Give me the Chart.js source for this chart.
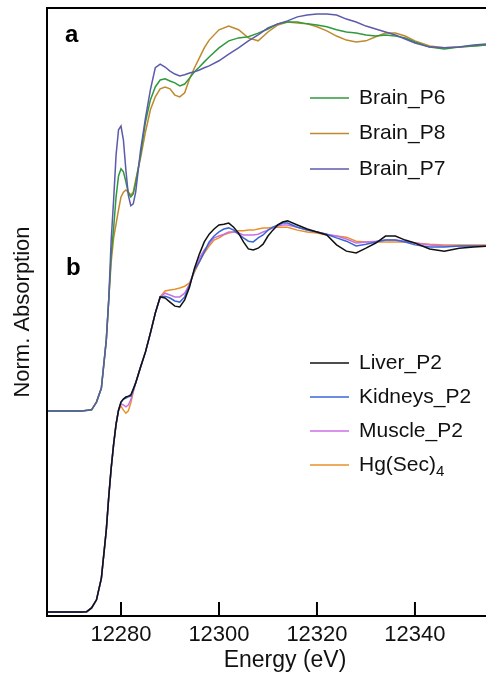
<!DOCTYPE html>
<html lang="en">
<head>
<meta charset="UTF-8">
<title>Hg L3-edge XANES</title>
<script src="https://cdn.jsdelivr.net/npm/chart.js"></script>
<style>
    body { margin: 0; background: #fff; }
    #wrap { width: 486px; height: 679px; }
</style>
</head>
<body>
<div id="wrap"><canvas id="xanes" width="486" height="679"></canvas></div>
<script>
// panel a: brain samples (shifted up by offsetA)
const energyA = [12265, 12272, 12274, 12275, 12276, 12277, 12277.5, 12278, 12278.5, 12279, 12279.5,
    12280, 12280.5, 12281, 12281.5, 12282, 12282.5, 12283, 12284, 12285, 12286, 12287, 12288, 12289,
    12290, 12291, 12292, 12293, 12294, 12295, 12296, 12297, 12298, 12300, 12302, 12304, 12306, 12308,
    12310, 12312, 12314, 12316, 12318, 12320, 12322, 12324, 12326, 12328, 12330, 12332, 12334, 12336,
    12338, 12340, 12343, 12346, 12349, 12352, 12355];
const brainP7 = [0, 0, 0.003, 0.024, 0.062, 0.192, 0.301, 0.463, 0.572, 0.694, 0.762, 0.772, 0.734,
    0.653, 0.585, 0.556, 0.561, 0.593, 0.707, 0.794, 0.870, 0.930, 0.940, 0.932, 0.921, 0.913, 0.908,
    0.911, 0.916, 0.919, 0.924, 0.930, 0.935, 0.949, 0.967, 0.984, 1.003, 1.019, 1.038, 1.049, 1.057,
    1.068, 1.073, 1.076, 1.076, 1.073, 1.062, 1.054, 1.043, 1.035, 1.027, 1.019, 1.008, 0.997, 0.986,
    0.984, 0.986, 0.992, 0.995];
const brainP6 = [0, 0, 0.003, 0.024, 0.062, 0.192, 0.301, 0.423, 0.496, 0.580, 0.637, 0.656, 0.648,
    0.621, 0.591, 0.580, 0.588, 0.618, 0.694, 0.783, 0.843, 0.878, 0.897, 0.900, 0.894, 0.889, 0.881,
    0.886, 0.902, 0.919, 0.932, 0.946, 0.959, 0.984, 1.003, 1.011, 1.014, 1.024, 1.035, 1.049, 1.054,
    1.054, 1.049, 1.046, 1.041, 1.033, 1.027, 1.024, 1.019, 1.016, 1.019, 1.016, 1.011, 1.000, 0.986,
    0.981, 0.986, 0.989, 0.992];
const brainP8 = [0, 0, 0.003, 0.024, 0.062, 0.192, 0.301, 0.404, 0.469, 0.507, 0.545, 0.580, 0.593,
    0.599, 0.593, 0.585, 0.593, 0.626, 0.686, 0.756, 0.816, 0.851, 0.873, 0.878, 0.873, 0.856, 0.851,
    0.862, 0.900, 0.930, 0.957, 0.984, 1.005, 1.033, 1.043, 1.033, 1.011, 1.003, 1.027, 1.046, 1.054,
    1.051, 1.049, 1.041, 1.030, 1.016, 1.005, 1.000, 1.003, 1.014, 1.024, 1.024, 1.016, 1.003, 0.989,
    0.984, 0.986, 0.989, 0.992];
const offsetA = 0.545;

// panel b: other tissues and reference compound
const energyB = [12265, 12272, 12273, 12274, 12275, 12276, 12277, 12277.5, 12278, 12278.5, 12279,
    12279.5, 12280, 12280.5, 12281, 12281.5, 12282, 12282.5, 12283, 12284, 12285, 12286, 12287, 12288,
    12289, 12290, 12291, 12292, 12293, 12294, 12295, 12296, 12297, 12298, 12299, 12300, 12301, 12302,
    12303, 12304, 12305, 12306, 12307, 12308, 12309, 12310, 12311, 12312, 12313, 12314, 12316, 12318,
    12320, 12322, 12324, 12326, 12328, 12330, 12332, 12334, 12336, 12338, 12340, 12343, 12346, 12349,
    12352, 12355];
const liverP2 = [0, 0, 0.001, 0.011, 0.033, 0.092, 0.222, 0.312, 0.390, 0.455, 0.509, 0.547,
    0.569, 0.577, 0.583, 0.585, 0.588, 0.604, 0.621, 0.664, 0.705, 0.756, 0.810, 0.854, 0.851, 0.840,
    0.829, 0.827, 0.846, 0.881, 0.932, 0.970, 1.003, 1.024, 1.038, 1.049, 1.051, 1.054, 1.043, 1.027,
    1.003, 0.984, 0.981, 0.986, 0.997, 1.019, 1.035, 1.049, 1.057, 1.060, 1.049, 1.038, 1.030, 1.022,
    0.995, 0.978, 0.973, 0.986, 1.000, 1.019, 1.019, 1.008, 1.000, 0.984, 0.978, 0.986, 0.989, 0.992];
const kidneysP2 = [0, 0, 0.001, 0.011, 0.033, 0.092, 0.222, 0.312, 0.390, 0.455, 0.509, 0.547,
    0.569, 0.577, 0.580, 0.583, 0.585, 0.602, 0.621, 0.664, 0.705, 0.756, 0.810, 0.854, 0.856, 0.851,
    0.843, 0.840, 0.854, 0.886, 0.927, 0.949, 0.976, 1.003, 1.019, 1.030, 1.038, 1.041, 1.035, 1.024,
    1.014, 1.005, 1.003, 1.014, 1.022, 1.035, 1.043, 1.049, 1.054, 1.054, 1.043, 1.035, 1.030, 1.024,
    1.014, 1.005, 0.992, 0.997, 1.003, 1.008, 1.008, 1.003, 0.995, 0.989, 0.989, 0.992, 0.992, 0.992];
const muscleP2 = [0, 0, 0.001, 0.011, 0.033, 0.092, 0.222, 0.312, 0.390, 0.455, 0.509, 0.547,
    0.564, 0.561, 0.556, 0.561, 0.575, 0.599, 0.621, 0.664, 0.705, 0.756, 0.810, 0.854, 0.864, 0.859,
    0.854, 0.854, 0.864, 0.889, 0.927, 0.959, 0.981, 0.997, 1.014, 1.019, 1.024, 1.030, 1.030, 1.027,
    1.022, 1.022, 1.022, 1.024, 1.030, 1.035, 1.041, 1.046, 1.049, 1.049, 1.043, 1.035, 1.030, 1.024,
    1.019, 1.011, 1.000, 1.003, 1.005, 1.008, 1.008, 1.005, 1.000, 0.995, 0.992, 0.992, 0.992, 0.992];
const hgSec4 = [0, 0, 0.001, 0.011, 0.033, 0.092, 0.222, 0.312, 0.390, 0.455, 0.509, 0.547,
    0.558, 0.547, 0.539, 0.545, 0.566, 0.596, 0.621, 0.664, 0.705, 0.756, 0.810, 0.854, 0.870, 0.873,
    0.875, 0.878, 0.883, 0.892, 0.921, 0.949, 0.973, 0.992, 1.008, 1.014, 1.022, 1.027, 1.030, 1.033,
    1.033, 1.035, 1.035, 1.038, 1.041, 1.041, 1.043, 1.043, 1.043, 1.043, 1.035, 1.030, 1.027, 1.022,
    1.019, 1.016, 1.005, 1.003, 1.003, 1.003, 1.003, 1.003, 1.000, 0.997, 0.995, 0.995, 0.995, 0.995];

const xTicks = [12280, 12300, 12320, 12340];

const legendA = [
    { label: 'Brain_P6', color: '#2f9a3c' },
    { label: 'Brain_P8', color: '#bf8a2e' },
    { label: 'Brain_P7', color: '#5b5bab' }
];
const legendB = [
    { label: 'Liver_P2', color: '#111111' },
    { label: 'Kidneys_P2', color: '#3a66d4' },
    { label: 'Muscle_P2', color: '#cc6fe6' },
    { label: 'Hg(Sec)', sub: '4', color: '#e8912a' }
];

const FONT = '"Liberation Sans", Arial, sans-serif';

function series(energy, values, offset, color) {
    return {
        data: energy.map((e, i) => ({ x: e, y: values[i] + offset })),
        borderColor: color,
        borderWidth: 1.5,
        pointRadius: 0,
        tension: 0,
        fill: false
    };
}

// dataset 0 is drawn last (on top)
const datasets = [
    series(energyA, brainP7, offsetA, legendA[2].color),
    series(energyA, brainP6, offsetA, legendA[0].color),
    series(energyA, brainP8, offsetA, legendA[1].color),
    series(energyB, liverP2, 0, legendB[0].color),
    series(energyB, kidneysP2, 0, legendB[1].color),
    series(energyB, muscleP2, 0, legendB[2].color),
    series(energyB, hgSec4, 0, legendB[3].color)
];

const framePlugin = {
    id: 'frame',
    afterDatasetsDraw(chart) {
        const { ctx, chartArea: a, scales } = chart;
        ctx.save();
        ctx.strokeStyle = '#000';
        ctx.lineWidth = 2;
        ctx.beginPath();
        ctx.moveTo(a.right + 2, a.top);
        ctx.lineTo(a.left, a.top);
        ctx.lineTo(a.left, a.bottom);
        ctx.lineTo(a.right + 2, a.bottom);
        ctx.stroke();

        // inward tick marks
        xTicks.forEach(v => {
            const px = scales.x.getPixelForValue(v);
            ctx.beginPath();
            ctx.moveTo(px, a.bottom);
            ctx.lineTo(px, a.bottom - 14);
            ctx.stroke();
        });

        // x title, centred on the full (cropped) frame
        ctx.fillStyle = '#111';
        ctx.font = '23px ' + FONT;
        ctx.textAlign = 'center';
        ctx.textBaseline = 'middle';
        ctx.fillText('Energy (eV)', 285, 661);

        // panel letters
        ctx.fillStyle = '#000';
        ctx.font = 'bold 24px ' + FONT;
        ctx.textBaseline = 'alphabetic';
        ctx.textAlign = 'left';
        ctx.fillText('a', a.left + 18, 42);
        ctx.fillText('b', a.left + 19, 275);

        // legends
        ctx.textBaseline = 'middle';
        const drawLegend = (items, y0, step) => {
            items.forEach((it, i) => {
                const y = y0 + i * step;
                ctx.strokeStyle = it.color;
                ctx.lineWidth = 1.6;
                ctx.beginPath();
                ctx.moveTo(310, y);
                ctx.lineTo(349, y);
                ctx.stroke();
                ctx.fillStyle = '#111';
                ctx.font = '21px ' + FONT;
                ctx.fillText(it.label, 359, y);
                if (it.sub) {
                    const w = ctx.measureText(it.label).width;
                    ctx.font = '15px ' + FONT;
                    ctx.fillText(it.sub, 359 + w, y + 7);
                }
            });
        };
        drawLegend(legendA, 98, 35.5);
        drawLegend(legendB, 363, 34);
        ctx.restore();
    }
};

new Chart(document.getElementById('xanes').getContext('2d'), {
    type: 'line',
    data: { datasets: datasets },
    options: {
        responsive: false,
        animation: false,
        layout: { padding: { top: 8, right: 0, bottom: 0, left: 0 } },
        plugins: {
            legend: { display: false },
            tooltip: { enabled: false }
        },
        scales: {
            x: {
                type: 'linear',
                min: 12264.9,
                max: 12354.5,
                afterBuildTicks: s => { s.ticks = xTicks.map(v => ({ value: v })); },
                afterFit: s => { s.height = 63; },
                ticks: {
                    color: '#111',
                    padding: -2,
                    maxRotation: 0,
                    font: { family: FONT, size: 22 },
                    callback: v => String(v)
                },
                grid: { display: false },
                border: { display: false }
            },
            y: {
                min: -0.0108,
                max: 1.637,
                afterFit: s => { s.width = 47; },
                ticks: { display: false },
                grid: { display: false },
                border: { display: false },
                title: {
                    display: true,
                    text: 'Norm. Absorption',
                    color: '#111',
                    font: { family: FONT, size: 22 },
                    padding: { top: 10, bottom: 0 }
                }
            }
        }
    },
    plugins: [framePlugin]
});
</script>
</body>
</html>
